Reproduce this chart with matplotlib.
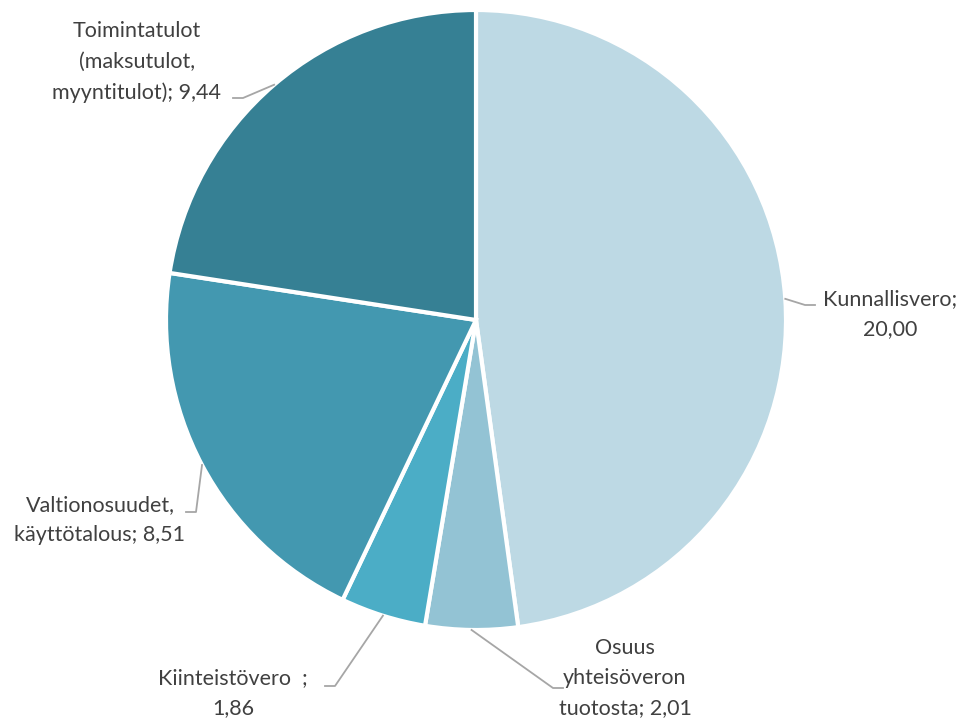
import numpy as np
import matplotlib
matplotlib.use("Agg")
import matplotlib.pyplot as plt

labels = ["Kunnallisvero;\n20,00",
          "Osuus\nyhteisöveron\ntuotosta; 2,01",
          "Kiinteistövero  ;\n1,86",
          "Valtionosuudet,\nkäyttötalous; 8,51",
          "Toimintatulot\n(maksutulot,\nmyyntitulot); 9,44"]
values = [20.00, 2.01, 1.86, 8.51, 9.44]
colors = ["#BDD9E4", "#93C3D4", "#4BADC6", "#4398B0", "#368094"]

# label layout in pixels (elbow x, elbow y, text x, text y)
label_pos = [(805, 305, 890, 314),
             (553, 688, 625, 678),
             (335, 686, 233, 693),
             (196, 512, 100, 520),
             (243, 98, 137, 62)]

W, H = 960, 720
cx, cy, r = 476, 320, 310

plt.rcParams['font.family'] = ['Lato', 'DejaVu Sans']
fig = plt.figure(figsize=(9.6, 7.2), dpi=100)
ax = fig.add_axes([0, 0, 1, 1])

wedges, _ = ax.pie(values, colors=colors, startangle=90, counterclock=False,
                   center=(cx, H - cy), radius=r, frame=True,
                   wedgeprops=dict(edgecolor='white', linewidth=3))
ax.set_xlim(0, W)
ax.set_ylim(0, H)
ax.axis('off')

for w, lab, (ex, ey, tx, ty) in zip(wedges, labels, label_pos):
    mid = np.deg2rad((w.theta1 + w.theta2) / 2)
    sx = cx + r * np.cos(mid)
    sy = H - cy + r * np.sin(mid)
    end_x = ex + (10 if tx > ex else -10)
    ax.plot([sx, ex, end_x], [sy, H - ey, H - ey], color='#A6A6A6', lw=1.3)
    ax.text(tx, H - ty, lab, ha='center', va='center', multialignment='center',
            fontsize=15.5, color='#404040', linespacing=1.65)

fig.savefig("out.png", dpi=100)
